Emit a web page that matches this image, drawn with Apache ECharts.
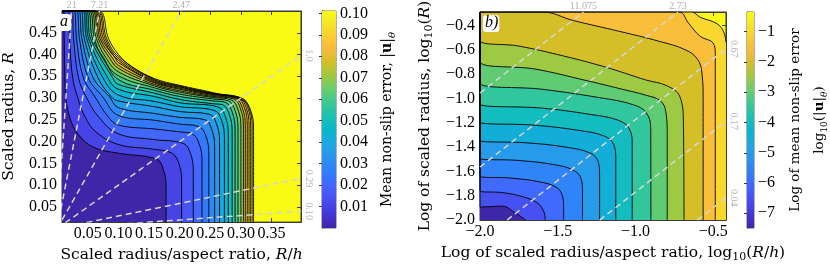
<!DOCTYPE html>
<html><head><meta charset="utf-8">
<script src="https://cdn.jsdelivr.net/npm/echarts@6/dist/echarts.min.js"></script>
<style>html,body{margin:0;padding:0;background:#fff}#c{width:830px;height:268px}</style>
</head><body><div id="c"></div>
<script>
// ---------------- DATA ----------------
const aXTicks = [0.05, 0.10, 0.15, 0.20, 0.25, 0.30, 0.35];
const aYTicks = [0.05, 0.10, 0.15, 0.20, 0.25, 0.30, 0.35, 0.40, 0.45];
const aCbTicks = [0.01, 0.02, 0.03, 0.04, 0.05, 0.06, 0.07, 0.08, 0.09, 0.10];
const aLevels = [0.005,0.010,0.015,0.020,0.025,0.030,0.035,0.040,0.045,0.050,0.055,0.060,0.065,0.070,0.075,0.080,0.085,0.090,0.095,0.100];
const aLines = [
 [[0.0111,0.5],[0.0116,0.4361],[0.0127,0.3470],[0.0143,0.3025],[0.0206,0.2557],[0.0349,0.2156],[0.0603,0.1866],[0.1,0.1733],[0.1619,0.1599],[0.1730,0.1376],[0.1778,0.0976],[0.1778,0.01]],
 [[0.0183,0.5],[0.0203,0.4361],[0.0254,0.3470],[0.0333,0.3025],[0.0460,0.2557],[0.0635,0.2223],[0.1,0.1933],[0.1587,0.1822],[0.1873,0.1733],[0.1984,0.1510],[0.2032,0.1109],[0.2032,0.01]],
 [[0.0238,0.5],[0.0270,0.4361],[0.0349,0.3470],[0.0476,0.3025],[0.0683,0.2557],[0.1,0.2178],[0.1587,0.2045],[0.2063,0.1955],[0.2175,0.1733],[0.2222,0.1332],[0.2222,0.01]],
 [[0.0278,0.5],[0.0317,0.4361],[0.0429,0.3470],[0.0619,0.3025],[0.0841,0.2557],[0.1,0.2379],[0.1587,0.2290],[0.2,0.2223],[0.2206,0.2178],[0.2317,0.1955],[0.2365,0.1555],[0.2365,0.01]],
 [[0.0317,0.5],[0.0365,0.4361],[0.0508,0.3470],[0.0746,0.3025],[0.1,0.2601],[0.1587,0.2490],[0.2,0.2401],[0.2317,0.2345],[0.2429,0.2122],[0.2476,0.1722],[0.2476,0.01]],
 [[0.0349,0.5],[0.0405,0.4361],[0.0587,0.3470],[0.0857,0.3025],[0.1,0.2780],[0.1587,0.2646],[0.2,0.2557],[0.2413,0.2501],[0.2524,0.2278],[0.2571,0.1878],[0.2571,0.01]],
 [[0.0381,0.5],[0.0444,0.4361],[0.0667,0.3470],[0.0889,0.3025],[0.1,0.2935],[0.1587,0.2802],[0.2,0.2690],[0.2492,0.2624],[0.2603,0.2401],[0.2651,0.2],[0.2651,0.01]],
 [[0.0413,0.5],[0.0484,0.4361],[0.0746,0.3470],[0.1,0.3069],[0.1587,0.2924],[0.2,0.2802],[0.2571,0.2713],[0.2683,0.2490],[0.2730,0.2089],[0.2730,0.01]],
 [[0.0437,0.5],[0.0516,0.4361],[0.0825,0.3470],[0.1,0.3203],[0.1587,0.3036],[0.2,0.2891],[0.2635,0.2791],[0.2746,0.2568],[0.2794,0.2167],[0.2794,0.01]],
 [[0.0460,0.5],[0.0548,0.4361],[0.0905,0.3470],[0.1,0.3314],[0.1587,0.3114],[0.2,0.2969],[0.254,0.2869],[0.2698,0.2846],[0.2810,0.2624],[0.2857,0.2223],[0.2857,0.01]],
 [[0.0484,0.5],[0.0579,0.4361],[0.0762,0.3915],[0.1,0.3425],[0.1587,0.3180],[0.2,0.3036],[0.254,0.2935],[0.2746,0.2902],[0.2857,0.2679],[0.2905,0.2278],[0.2905,0.01]],
 [[0.0508,0.5],[0.0611,0.4361],[0.0746,0.3915],[0.1,0.3514],[0.1587,0.3236],[0.2,0.3091],[0.254,0.2980],[0.2794,0.2935],[0.2905,0.2713],[0.2952,0.2312],[0.2952,0.01]],
 [[0.0532,0.5],[0.0643,0.4361],[0.0802,0.3915],[0.1,0.3604],[0.1587,0.3281],[0.2,0.3136],[0.254,0.3013],[0.2841,0.2958],[0.2952,0.2735],[0.3,0.2334],[0.3,0.01]],
 [[0.0556,0.5],[0.0675,0.4361],[0.0857,0.3915],[0.1,0.3682],[0.1587,0.3314],[0.2,0.3169],[0.254,0.3036],[0.2881,0.2980],[0.2992,0.2757],[0.3040,0.2356],[0.3040,0.01]],
 [[0.0576,0.5],[0.0702,0.4361],[0.0905,0.3915],[0.1,0.3748],[0.1587,0.3347],[0.2,0.3203],[0.254,0.3058],[0.2913,0.2991],[0.3024,0.2768],[0.3071,0.2367],[0.3071,0.01]],
 [[0.0595,0.5],[0.0730,0.4361],[0.0952,0.3915],[0.1,0.3815],[0.1587,0.3370],[0.2,0.3225],[0.254,0.3080],[0.2944,0.3002],[0.3056,0.2780],[0.3103,0.2379],[0.3103,0.01]],
 [[0.0614,0.5],[0.0759,0.4361],[0.1,0.3871],[0.1587,0.3392],[0.2,0.3247],[0.254,0.3091],[0.2973,0.3002],[0.3084,0.2780],[0.3132,0.2379],[0.3132,0.01]],
 [[0.0635,0.5],[0.0786,0.4361],[0.1,0.3915],[0.1587,0.3414],[0.2,0.3263],[0.254,0.3102],[0.3,0.3002],[0.3111,0.2780],[0.3159,0.2379],[0.3159,0.01]],
 [[0.0654,0.5],[0.0810,0.4361],[0.1,0.3960],[0.1587,0.3432],[0.2,0.3278],[0.254,0.3114],[0.3024,0.2991],[0.3135,0.2768],[0.3183,0.2367],[0.3183,0.01]],
 [[0.0675,0.5],[0.0841,0.4361],[0.1,0.4004],[0.1222,0.3715],[0.1587,0.3448],[0.2,0.3292],[0.254,0.3125],[0.3048,0.2935],[0.3159,0.2713],[0.3206,0.2312],[0.3206,0.01]]
];
const aRays = [21, 7.21, 2.47, 1.0, 0.29, 0.10];
const aRayLabels = ['21', '7.21', '2.47', '1.0', '0.29', '0.10'];

const bXTicks = [-2.0, -1.5, -1.0, -0.5];
const bYTicks = [-2.0, -1.8, -1.6, -1.4, -1.2, -1.0, -0.8, -0.6, -0.4];
const bCbTicks = [-7, -6, -5, -4, -3, -2, -1];
const bLevels = [-7.0, -6.5, -6.0, -5.5, -5.0, -4.5, -4.0, -3.5, -3.0, -2.5, -2.0, -1.5, -1.0];
const bLines = [
 [[-2,-1.893],[-1.93,-1.889],[-1.856,-1.885],[-1.78,-1.935],[-1.705,-2.0]],
 [[-2,-1.76],[-1.85,-1.775],[-1.72,-1.81],[-1.63,-1.86],[-1.59,-1.93],[-1.58,-2.0]],
 [[-2,-1.64],[-1.8,-1.655],[-1.62,-1.685],[-1.51,-1.73],[-1.47,-1.80],[-1.462,-1.9],[-1.462,-2.0]],
 [[-2,-1.493],[-1.75,-1.51],[-1.52,-1.545],[-1.40,-1.59],[-1.35,-1.66],[-1.341,-1.77],[-1.341,-2.0]],
 [[-2,-1.346],[-1.7,-1.365],[-1.45,-1.40],[-1.29,-1.45],[-1.24,-1.52],[-1.231,-1.63],[-1.231,-2.0]],
 [[-2,-1.194],[-1.65,-1.22],[-1.38,-1.26],[-1.20,-1.31],[-1.14,-1.38],[-1.127,-1.50],[-1.127,-2.0]],
 [[-2,-1.045],[-1.6,-1.08],[-1.3,-1.13],[-1.11,-1.18],[-1.04,-1.25],[-1.021,-1.38],[-1.021,-2.0]],
 [[-2,-0.872],[-1.6,-0.925],[-1.25,-0.99],[-1.02,-1.05],[-0.93,-1.12],[-0.902,-1.26],[-0.901,-2.0]],
 [[-2,-0.693],[-1.64,-0.76],[-1.317,-0.853],[-1.10,-0.92],[-0.93,-0.975],[-0.84,-1.02],[-0.805,-1.11],[-0.796,-1.3],[-0.796,-2.0]],
 [[-2,-0.52],[-1.75,-0.57],[-1.5,-0.64],[-1.2,-0.74],[-0.93,-0.85],[-0.80,-0.895],[-0.715,-0.985],[-0.692,-1.2],[-0.688,-2.0]],
 [[-2,-0.29],[-1.6,-0.29],[-1.4,-0.36],[-1.1,-0.45],[-0.85,-0.53],[-0.68,-0.6],[-0.60,-0.68],[-0.572,-0.8],[-0.565,-1.0],[-0.565,-2.0]],
 [[-2,-0.29],[-0.72,-0.29],[-0.66,-0.38],[-0.584,-0.49],[-0.50,-0.546],[-0.487,-0.642],[-0.487,-0.8],[-0.487,-2.0]],
 [[-2,-0.29],[-0.64,-0.29],[-0.584,-0.333],[-0.476,-0.386],[-0.433,-0.453],[-0.418,-0.54]]
];
const bRays = [11.075, 2.73, 0.67, 0.17, 0.04];
const bRayLabels = ['11.075', '2.73', '0.67', '0.17', '0.04'];

// ---------------- STYLE ----------------
const aX = [0.008, 0.398], aY = [0.015, 0.5], aC = [0, 0.1011];
const bX = [-2.0, -0.418], bY = [-2.0, -0.29], bC = [-7.486, -0.349];
const FONT = 'Liberation Serif';
const TFONT = 'DejaVu Serif';
const PARULA = [[0.2422,0.1504,0.6603],[0.2706,0.2147,0.8364],[0.2813,0.3006,0.9414],[0.2699,0.3892,0.9906],[0.1963,0.4847,0.9892],[0.1687,0.5703,0.9359],[0.1248,0.6459,0.8883],[0.0297,0.7082,0.8163],[0.0964,0.7500,0.7120],[0.2161,0.7843,0.5923],[0.3909,0.8029,0.4354],[0.6174,0.7876,0.2612],[0.8203,0.7498,0.1535],[0.9728,0.7298,0.2394],[0.9892,0.8136,0.1885],[0.9597,0.9135,0.1423],[0.9769,0.9839,0.0805]];
const PT = PARULA.map((c, i) => i === PARULA.length - 1 ? 1 : i * 4 / 63);
function parula(t) {
  t = Math.max(0, Math.min(1, t));
  let i = 0;
  while (i < PT.length - 2 && t > PT[i + 1]) i++;
  const f = (t - PT[i]) / (PT[i + 1] - PT[i]);
  const c = PARULA[i].map((v, j) => Math.round(255 * (v + (PARULA[i + 1][j] - v) * f)));
  return 'rgb(' + c.join(',') + ')';
}
const col = (v, r) => parula((v - r[0]) / (r[1] - r[0]));
const gradStops = PARULA.map((c, i) => ({offset: PT[i], color: 'rgb(' + c.map(v => Math.round(v * 255)).join(',') + ')'}));

const chart = echarts.init(document.getElementById('c'));
const txt = {fontFamily: FONT, fontSize: 16, color: '#000'};
function mkRich(fs, lh) {
  const base = {fontFamily: TFONT, fontSize: fs, color: '#000', lineHeight: lh};
  const sub = {fontFamily: TFONT, fontSize: Math.round(fs * 0.68), color: '#000', lineHeight: Math.round(fs * 0.68), verticalAlign: 'bottom'};
  return {
    t: base,
    i: Object.assign({}, base, {fontStyle: 'italic'}),
    b: Object.assign({}, base, {fontWeight: 'bold'}),
    s: sub,
    si: Object.assign({}, sub, {fontStyle: 'italic'})
  };
}
const richAxis = mkRich(15.5, 20);
const richCbA = mkRich(14, 20);
const richCbB = mkRich(13.5, 20);
const fmtMinus = (v, d) => (v < 0 ? '\u2212' : '') + Math.abs(v).toFixed(d);
const AX = '#3a3a3a';

function mainAxes(gi, xr, yr, xt, yt, xfmt, yfmt, xname, yname, xgap, ygap, xpad) {
  const base = {gridIndex: gi, type: 'value', splitLine: {show: false}, axisLine: {show: true, lineStyle: {color: AX, width: 1}}};
  const tick = vals => ({show: true, inside: true, length: 4, customValues: vals, lineStyle: {color: AX}});
  return {
    x: [
      Object.assign({}, base, {min: xr[0], max: xr[1], position: 'bottom', axisTick: tick(xt),
        axisLabel: Object.assign({customValues: xt, formatter: xfmt, margin: 4}, txt),
        name: xname, nameLocation: 'middle', nameGap: xgap, nameTextStyle: {rich: richAxis, padding: xpad}}),
      Object.assign({}, base, {min: xr[0], max: xr[1], position: 'top', axisTick: tick(xt), axisLabel: {show: false}})
    ],
    y: [
      Object.assign({}, base, {min: yr[0], max: yr[1], position: 'left', axisTick: tick(yt),
        axisLabel: Object.assign({customValues: yt, formatter: yfmt, margin: 5}, txt),
        name: yname, nameLocation: 'middle', nameGap: ygap, nameTextStyle: {rich: richAxis}}),
      Object.assign({}, base, {min: yr[0], max: yr[1], position: 'right', axisTick: tick(yt), axisLabel: {show: false}})
    ]
  };
}
function cbAxes(gi, cr, ticks, fmt, name, gap, rich) {
  return {
    x: {gridIndex: gi, type: 'value', min: 0, max: 1, show: false},
    y: {gridIndex: gi, type: 'value', min: cr[0], max: cr[1], position: 'right', splitLine: {show: false},
      axisLine: {show: true, lineStyle: {color: AX}},
      axisTick: {show: true, inside: true, length: 3, customValues: ticks, lineStyle: {color: AX}},
      axisLabel: Object.assign({customValues: ticks, formatter: fmt, margin: 4}, txt),
      name: name, nameLocation: 'middle', nameGap: gap, nameTextStyle: {rich}}
  };
}

const A = mainAxes(0, aX, aY, aXTicks, aYTicks, v => v.toFixed(2), v => v.toFixed(2),
  '{t|Scaled radius/aspect ratio, }{i|R}{t|/}{i|h}', '{t|Scaled radius, }{i|R}', 19, 43, 0);
const B = mainAxes(2, bX, bY, bXTicks, bYTicks, v => fmtMinus(v, 1), v => fmtMinus(v, 1),
  '{t|Log of scaled radius/aspect ratio, log}{s|10}{t|(}{i|R}{t|/}{i|h}{t|)}', '{t|Log of scaled radius, log}{s|10}{t|(}{i|R}{t|)}', 19, 45, [0, 0, 0, 20]);
const CA = cbAxes(1, aC, aCbTicks, v => v.toFixed(2), '{t|Mean non-slip error, |}{b|u}{t||}{si|θ}', 41, richCbA);
const CB = cbAxes(3, bC, bCbTicks, v => fmtMinus(v, 0), '{t|Log of mean non-slip error}', 31, richCbB);
// second title line of the right colour bar, carried by an invisible companion axis
const CB2 = {gridIndex: 3, type: 'value', min: bC[0], max: bC[1], position: 'right', show: true,
  axisLine: {show: false}, axisTick: {show: false}, axisLabel: {show: false}, splitLine: {show: false},
  name: '{t|log}{s|10}{t|(|}{b|u}{t||}{si|θ}{t|)}', nameLocation: 'middle', nameGap: 55, nameTextStyle: {rich: richCbB}};

const xAxis = [A.x[0], A.x[1], CA.x, B.x[0], B.x[1], CB.x];
const yAxis = [A.y[0], A.y[1], CA.y, B.y[0], B.y[1], CB.y, CB2];

const SM = 0.4;
const series = [];
function contourSeries(lines, levels, xi, yi, cr, xr, yr) {
  for (let k = lines.length - 1; k >= 0; k--) {
    const pts = [[xr[0], yr[1]]].concat(lines[k]);
    series.push({type: 'line', xAxisIndex: xi, yAxisIndex: yi, data: pts, smooth: SM, symbol: 'none', silent: true,
      lineStyle: {width: 0, opacity: 0}, areaStyle: {color: col(levels[k], cr), opacity: 1, origin: 'start'}, z: 2});
  }
  series.push({type: 'line', xAxisIndex: xi, yAxisIndex: yi, data: [[xr[0], yr[1]]].concat(lines[0]), smooth: SM, symbol: 'none', silent: true,
    lineStyle: {width: 0, opacity: 0}, areaStyle: {color: parula(0.0), opacity: 1, origin: 'start'}, z: 2});
  lines.forEach(l => series.push({type: 'line', xAxisIndex: xi, yAxisIndex: yi, data: [[xr[0], yr[1]]].concat(l), smooth: SM, symbol: 'none', silent: true,
    lineStyle: {color: '#000', width: 0.9}, z: 3}));
}
contourSeries(aLines, aLevels, 0, 0, aC, aX, aY);
contourSeries(bLines, bLevels, 3, 3, bC, bX, bY);

const rayStyle = {color: '#d6d6d6', width: 1.5, type: [6, 4]};
const aLab = [];
aRays.forEach((h, i) => {
  let end, top;
  if (aY[1] / h <= aX[1]) { end = [aY[1] / h, aY[1]]; top = true; } else { end = [aX[1], h * aX[1]]; top = false; }
  series.push({type: 'line', xAxisIndex: 0, yAxisIndex: 0, data: [[0, 0], end], symbol: 'none', silent: true, lineStyle: rayStyle, z: 4});
  aLab.push({value: [end[0], end[1]], name: aRayLabels[i], top});
});
const bLab = [];
bRays.forEach((h, i) => {
  const L = Math.log10(h);
  const start = (bX[0] + L >= bY[0]) ? [bX[0], bX[0] + L] : [bY[0] - L, bY[0]];
  let end, top;
  if (bY[1] - L <= bX[1]) { end = [bY[1] - L, bY[1]]; top = true; } else { end = [bX[1], bX[1] + L]; top = false; }
  series.push({type: 'line', xAxisIndex: 3, yAxisIndex: 3, data: [start, end], symbol: 'none', silent: true, lineStyle: rayStyle, z: 4});
  bLab.push({value: [end[0], end[1]], name: bRayLabels[i], top});
});
function labelSeries(items, xi, yi) {
  series.push({type: 'scatter', xAxisIndex: xi, yAxisIndex: yi, symbolSize: 0, silent: true, clip: false, z: 5,
    data: items.map(d => ({value: d.value, name: d.name,
      label: d.top ? {show: true, position: [0, -6], align: 'center', verticalAlign: 'middle', formatter: '{b}', color: '#9a9a9a', fontFamily: FONT, fontSize: 10}
                   : {show: true, position: [8, 0], rotate: -90, align: 'center', verticalAlign: 'middle', formatter: '{b}', color: '#9a9a9a', fontFamily: FONT, fontSize: 10}}))});
}
labelSeries(aLab, 0, 0);
labelSeries(bLab, 3, 3);

function cbSeries(xi, yi, cr) {
  series.push({type: 'custom', xAxisIndex: xi, yAxisIndex: yi, silent: true, z: 1, data: [[0, cr[0], 1, cr[1]]],
    renderItem: (p, api) => {
      const p0 = api.coord([api.value(0), api.value(1)]);
      const p1 = api.coord([api.value(2), api.value(3)]);
      return {type: 'rect', shape: {x: p0[0], y: p1[1], width: p1[0] - p0[0], height: p0[1] - p1[1]},
        style: {fill: new echarts.graphic.LinearGradient(0, 1, 0, 0, gradStops)}};
    }});
}
cbSeries(2, 2, aC);
cbSeries(5, 5, bC);

chart.setOption({
  backgroundColor: '#fff',
  animation: false,
  grid: [
    {left: 55, top: 11, width: 246, height: 217, show: true, backgroundColor: parula(1), borderColor: AX, borderWidth: 1},
    {left: 322, top: 11, width: 14, height: 217, show: true, borderColor: '#666', borderWidth: 1},
    {left: 480, top: 12, width: 246, height: 216, show: true, backgroundColor: parula(1), borderColor: AX, borderWidth: 1},
    {left: 747, top: 12, width: 14, height: 216, show: true, borderColor: '#666', borderWidth: 1}
  ],
  xAxis, yAxis, series,
  graphic: [
    {type: 'text', left: 57, top: 14, z: 10, style: {text: 'a', font: 'italic 16px "Liberation Serif"', fill: '#000', backgroundColor: '#fff', padding: [0, 3, 1, 3], borderRadius: 3}},
    {type: 'text', left: 483, top: 15, z: 10, style: {text: 'b)', font: 'italic 16px "Liberation Serif"', fill: '#000', backgroundColor: '#fff', padding: [0, 1, 1, 2], borderRadius: 3}}
  ]
});
</script></body></html>
